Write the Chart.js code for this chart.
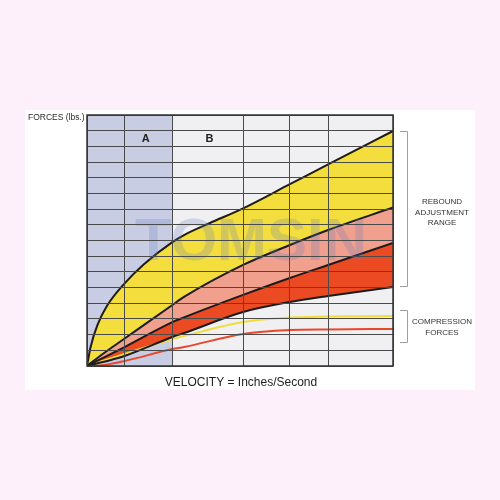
<!DOCTYPE html>
<html><head><meta charset="utf-8">
<script src="https://cdn.jsdelivr.net/npm/chart.js@4.4.0/dist/chart.umd.min.js"></script>
<style>html,body{margin:0;padding:0;background:#fdf0fb;}</style>
</head><body>
<canvas id="c" width="500" height="500"></canvas>
<script>
// vertical grid positions (velocity units, irregular as in the original)
const gridX = [0, 1.23, 2.79, 5.10, 6.63, 7.88, 10];
const regionBounds = [0, 2.79, 10];
const regionLabels = ['A', 'B'];
const regionLabelX = [1.92, 4.0];
const regionLabelY = 14.5;

// rebound curves (black outlined)
const c1x = [0, 0.12, 0.34, 0.66, 1.23, 1.86, 2.79, 3.17, 4.0, 5.10, 6.63, 7.88, 10];
const c1y = [0, 1.23, 2.60, 3.85, 5.27, 6.49, 7.90, 8.35, 9.10, 10.05, 11.59, 12.85, 14.98];
const c2x = [0, 0.56, 1.23, 2.79, 3.17, 5.10, 6.63, 7.88, 10];
const c2y = [0, 0.83, 1.75, 3.89, 4.40, 6.44, 7.71, 8.67, 10.1];
const c3x = [0, 1.23, 2.79, 3.17, 5.10, 6.63, 7.88, 10];
const c3y = [0, 1.21, 2.80, 3.10, 4.53, 5.61, 6.44, 7.84];
const c4x = [0, 1.23, 2.79, 3.17, 5.10, 6.63, 7.88, 10];
const c4y = [0, 0.64, 1.85, 2.10, 3.44, 4.08, 4.46, 5.03];
// compression curves
const cyx = [0, 1.23, 2.79, 3.17, 5.10, 6.63, 7.88, 10];
const cyy = [0, 0.76, 1.72, 1.91, 2.80, 3.09, 3.15, 3.19];
const crx = [0, 0.42, 1.23, 2.79, 3.17, 5.10, 6.63, 7.88, 10];
const cry = [0, 0.03, 0.32, 1.08, 1.21, 2.04, 2.29, 2.33, 2.36];

const zip = (xs, ys) => xs.map((x, i) => ({x, y: ys[i]}));

const bgPlugin = {
  id: 'bg',
  beforeDraw(chart) {
    const {ctx, chartArea: a, scales: {x}} = chart;
    ctx.save();
    ctx.fillStyle = '#fdf0fb';
    ctx.fillRect(0, 0, 500, 500);
    ctx.fillStyle = '#ffffff';
    ctx.fillRect(25, 110, 450, 280);
    const cols = ['#c9cde3', '#f0f0f2'];
    for (let i = 0; i < regionBounds.length - 1; i++) {
      const x0 = x.getPixelForValue(regionBounds[i]);
      const x1 = x.getPixelForValue(regionBounds[i + 1]);
      ctx.fillStyle = cols[i];
      ctx.fillRect(x0, a.top, x1 - x0, a.bottom - a.top);
    }
    ctx.restore();
  },
  afterDatasetsDraw(chart) {
    const {ctx, chartArea: a} = chart;
    ctx.save();
    ctx.beginPath();
    ctx.rect(a.left, a.top, a.right - a.left, a.bottom - a.top);
    ctx.clip();
    ctx.font = 'bold 60px "Liberation Sans", Arial, sans-serif';
    ctx.fillStyle = 'rgba(95,120,190,0.24)';
    ctx.textAlign = 'center';
    ctx.textBaseline = 'middle';
    ctx.fillText('TOMSIN', 251, 243);
    ctx.restore();
  },
  afterDraw(chart) {
    const {ctx, chartArea: a, scales: {x, y}} = chart;
    ctx.save();
    // frame
    ctx.strokeStyle = '#333';
    ctx.lineWidth = 1.5;
    ctx.strokeRect(a.left, a.top, a.right - a.left, a.bottom - a.top);
    ctx.fillStyle = '#2a2a2a';
    ctx.textBaseline = 'middle';
    ctx.font = '8.5px "Liberation Sans", Arial, sans-serif';
    ctx.textAlign = 'left';
    ctx.fillText('FORCES (lbs.)', 28, 118);
    ctx.font = 'bold 11px "Liberation Sans", Arial, sans-serif';
    ctx.textAlign = 'center';
    ctx.fillStyle = '#222';
    regionLabels.forEach((l, i) => {
      ctx.fillText(l, x.getPixelForValue(regionLabelX[i]), y.getPixelForValue(regionLabelY));
    });
    ctx.font = '12px "Liberation Sans", Arial, sans-serif';
    ctx.fillStyle = '#1e1e1e';
    ctx.fillText('VELOCITY = Inches/Second', 241, 383);
    // brackets
    const bx = a.right + 14;
    const drawBracket = (v0, v1) => {
      const p0 = Math.round(y.getPixelForValue(v0)), p1 = Math.round(y.getPixelForValue(v1));
      ctx.strokeStyle = '#a0a0a0';
      ctx.lineWidth = 1;
      ctx.beginPath();
      ctx.moveTo(bx - 7, p0 + 0.5); ctx.lineTo(bx + 0.5, p0 + 0.5);
      ctx.lineTo(bx + 0.5, p1 + 0.5); ctx.lineTo(bx - 7, p1 + 0.5);
      ctx.stroke();
    };
    drawBracket(15, 5.1);
    drawBracket(3.57, 1.53);
    ctx.fillStyle = '#333';
    ctx.font = '8px "Liberation Sans", Arial, sans-serif';
    ['REBOUND', 'ADJUSTMENT', 'RANGE'].forEach((t, i) => ctx.fillText(t, 442, 202 + i * 10.5));
    ['COMPRESSION', 'FORCES'].forEach((t, i) => ctx.fillText(t, 442, 322 + i * 10.5));
    ctx.restore();
  }
};

const black = '#1c1c1c';
new Chart(document.getElementById('c'), {
  type: 'line',
  data: {
    datasets: [
      {data: zip(c1x, c1y), borderColor: black, borderWidth: 2, backgroundColor: '#f4de3e', fill: '+1'},
      {data: zip(c2x, c2y), borderColor: black, borderWidth: 2, backgroundColor: '#f2a08e', fill: '+1'},
      {data: zip(c3x, c3y), borderColor: black, borderWidth: 2, backgroundColor: '#eb4a22', fill: '+1'},
      {data: zip(c4x, c4y), borderColor: black, borderWidth: 2, fill: false},
      {data: zip(cyx, cyy), borderColor: '#f2dc3a', borderWidth: 2, fill: false},
      {data: zip(crx, cry), borderColor: '#e8472a', borderWidth: 2, fill: false}
    ]
  },
  options: {
    responsive: false,
    animation: false,
    devicePixelRatio: 1,
    layout: {padding: {left: 87, right: 107, top: 115, bottom: 134}},
    elements: {point: {radius: 0}, line: {cubicInterpolationMode: 'monotone'}},
    plugins: {legend: {display: false}, tooltip: {enabled: false}, filler: {drawTime: 'beforeDatasetsDraw'}},
    scales: {
      x: {
        type: 'linear', min: 0, max: 10,
        afterBuildTicks: s => { s.ticks = gridX.map(v => ({value: v})); },
        ticks: {display: false},
        grid: {color: '#4a4a4a', lineWidth: 1, drawTicks: false, z: 1},
        border: {display: false}
      },
      y: {
        min: 0, max: 16,
        ticks: {display: false, stepSize: 1},
        grid: {color: '#4a4a4a', lineWidth: 1, drawTicks: false, z: 1},
        border: {display: false}
      }
    }
  },
  plugins: [bgPlugin]
});
</script>
</body></html>
